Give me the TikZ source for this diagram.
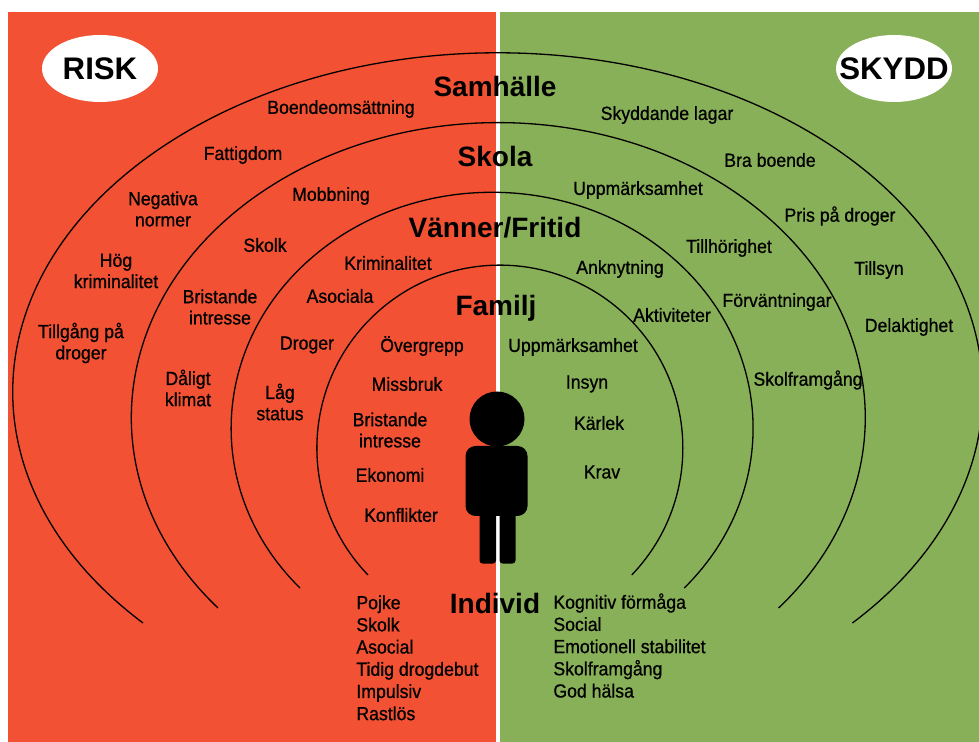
\documentclass[tikz,border=0pt]{standalone}
\usepackage{fontspec}
\setmainfont[FakeStretch=0.93,FakeBold=0.7]{Liberation Sans}
\newfontfamily\headfont[Ligatures=TeX]{Liberation Sans}
\definecolor{mred}{HTML}{F25133}
\definecolor{mgreen}{HTML}{88B058}
\usetikzlibrary{shapes.geometric}
\tikzset{factor/.style = {align=center, inner sep=0pt, font=\fontsize{9.5}{10.6}\selectfont},
         factorlist/.style = {factor, align=left, anchor=north west, font=\fontsize{9.5}{11.1}\selectfont},
         levelname/.style = {inner sep=0pt, font=\headfont\bfseries\fontsize{14}{16}\selectfont},
         sidename/.style = {ellipse, fill=white, minimum width=58pt, minimum height=33.5pt, inner sep=0pt},
         sidetext/.style = {inner sep=0pt, font=\headfont\bfseries\fontsize{15.6}{18}\selectfont},
         ring/.style = {line width=0.65pt}}

\begin{document}
\begin{tikzpicture}[x=0.5pt, y=-0.5pt]
    \useasboundingbox (0, 0) rectangle (979, 742);

    \fill [mred] (8, 12) rectangle (496, 742);

    \fill [mgreen] (499.5, 12) rectangle (979, 742);

    \clip (0, 0) rectangle (979, 742);

    \draw [ring] (143, 623) arc (137:403:485 and 339);

    \draw [ring] (218, 608) arc (139.8:400.2:367 and 295);

    \draw [ring] (300, 588) arc (137.4:402.6:261 and 236);

    \draw [ring] (368, 575) arc (136.1:403.9:183 and 183);

    \node [sidename, label={[sidetext]center:RISK}] (risk) at (100, 68.5) {};

    \node [sidename, label={[sidetext]center:SKYDD}] (skydd) at (894, 68.5) {};

    \fill (497, 419) circle (27.5);

    \fill [rounded corners=5pt] (465.5, 446) rectangle (527.5, 516);

    \fill [rounded corners=1.5pt] (479.5, 510) rectangle (496, 563.5);

    \fill [rounded corners=1.5pt] (499.5, 510) rectangle (515.5, 563.5);

    \node [levelname] (samhalle) at (495, 86) {Samhälle};
    \node [levelname] (skola) at (495, 156) {Skola};
    \node [levelname] (vanner) at (495, 228) {Vänner/Fritid};
    \node [levelname] (familj) at (496, 308) {Familj};
    \node [levelname] (individ) at (495, 603) {Individ};

    \node [factor] (boende) at (341, 109) {Boendeomsättning};
    \node [factor] (fattigdom) at (243, 155) {Fattigdom};
    \node [factor] (negativa) at (163, 209) {Negativa\\normer};
    \node [factor] (hog) at (116, 271) {Hög\\kriminalitet};
    \node [factor] (tillgang) at (81, 343) {Tillgång på\\droger};

    \node [factor] (mobbning) at (331, 196) {Mobbning};
    \node [factor] (skolk) at (265, 245) {Skolk};
    \node [factor] (bristandeA) at (220, 307) {Bristande\\intresse};
    \node [factor] (daligt) at (188, 388) {Dåligt\\klimat};

    \node [factor] (kriminalitet) at (388, 263) {Kriminalitet};
    \node [factor] (asociala) at (340, 296) {Asociala};
    \node [factor] (droger) at (307, 345) {Droger};
    \node [factor] (lag) at (280, 402) {Låg\\status};

    \node [factor] (overgrepp) at (422, 346) {Övergrepp};
    \node [factor] (missbruk) at (407, 384) {Missbruk};
    \node [factor] (bristandeB) at (390, 430) {Bristande\\intresse};
    \node [factor] (ekonomi) at (390, 475) {Ekonomi};
    \node [factor] (konflikter) at (401, 515) {Konflikter};

    \node [factor] (lagar) at (667, 115) {Skyddande lagar};
    \node [factor] (bra) at (770, 160) {Bra boende};
    \node [factor] (pris) at (840, 216) {Pris på droger};
    \node [factor] (tillsyn) at (879, 270) {Tillsyn};
    \node [factor] (delaktighet) at (909, 327) {Delaktighet};

    \node [factor] (uppmarkA) at (638, 190) {Uppmärksamhet};
    \node [factor] (tillhorighet) at (729, 248) {Tillhörighet};
    \node [factor] (forvantningar) at (777, 302) {Förväntningar};
    \node [factor] (framgang) at (808, 380) {Skolframgång};

    \node [factor] (anknytning) at (620, 269) {Anknytning};
    \node [factor] (aktiviteter) at (672, 315) {Aktiviteter};

    \node [factor] (uppmarkB) at (573, 347) {Uppmärksamhet};
    \node [factor] (insyn) at (587, 384) {Insyn};
    \node [factor] (karlek) at (599, 423) {Kärlek};
    \node [factor] (krav) at (602, 472) {Krav};

    \node [factorlist] (riskindivid) at (356, 595) {Pojke\\Skolk\\Asocial\\Tidig drogdebut\\Impulsiv\\Rastlös};

    \node [factorlist] (skyddindivid) at (553, 593) {Kognitiv förmåga\\Social\\Emotionell stabilitet\\Skolframgång\\God hälsa};
  \end{tikzpicture}
\end{document}
